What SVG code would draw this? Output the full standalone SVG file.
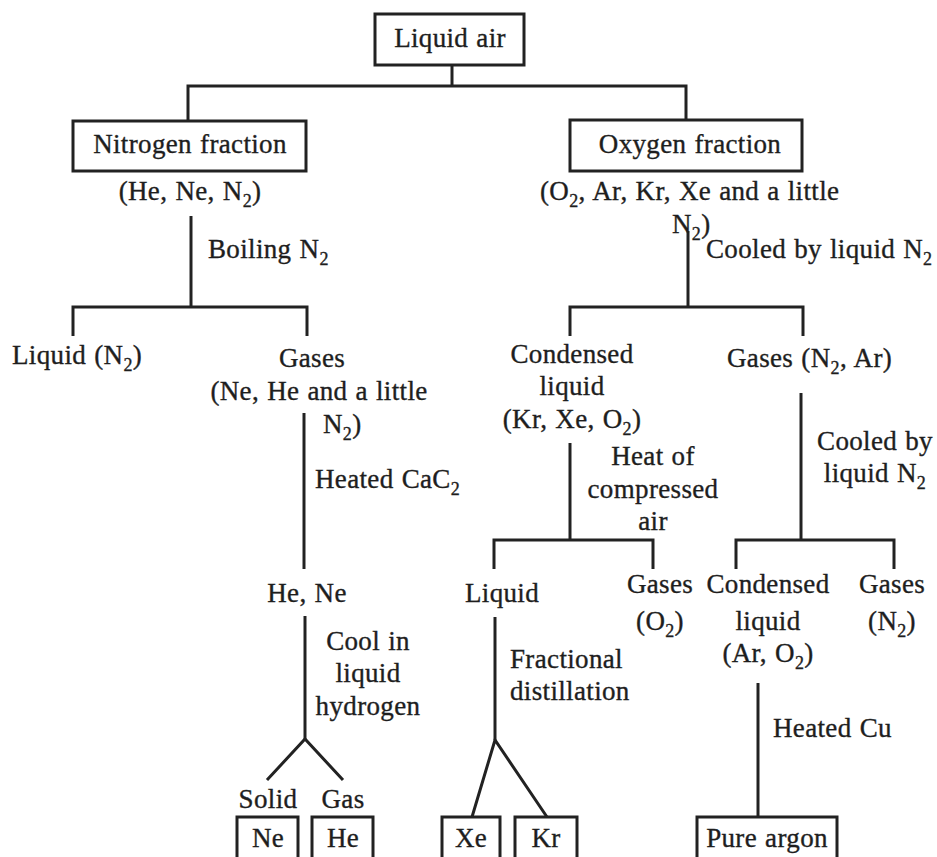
<svg xmlns="http://www.w3.org/2000/svg" width="937" height="857" viewBox="0 0 937 857">
  <style>
    text { font-family: "Liberation Serif", "Times New Roman", serif; font-size: 27px; fill: #1e1e1e; stroke: #1e1e1e; stroke-width: 0.35px; letter-spacing: 0.35px; word-spacing: 1px; }
    .c { text-anchor: middle; }
    .sub { font-size: 18px; }
    .box { fill: none; stroke: #222; stroke-width: 3; }
    .ln { fill: none; stroke: #222; stroke-width: 3; stroke-linejoin: miter; stroke-linecap: butt; }
  </style>
  <rect width="937" height="857" fill="#fff"/>

  <!-- connectors -->
  <g id="connectors">
    <polyline class="ln" points="452,65 452,86"/>
    <polyline class="ln" points="188,121 188,86 686,86 686,121"/>
    <polyline class="ln" points="191,216 191,307"/>
    <polyline class="ln" points="73,336 73,307 307,307 307,336"/>
    <polyline class="ln" points="688,231 688,306"/>
    <polyline class="ln" points="570,336 570,307 803,307 803,336"/>
    <polyline class="ln" points="304,413 304,569"/>
    <polyline class="ln" points="570,443 570,540"/>
    <polyline class="ln" points="494,569 494,540 653,540 653,569"/>
    <polyline class="ln" points="801,393 801,540"/>
    <polyline class="ln" points="736,569 736,540 894,540 894,569"/>
    <polyline class="ln" points="305,616 305,739"/>
    <polyline class="ln" points="267,780 305,739 343,780"/>
    <polyline class="ln" points="495,617 495,740"/>
    <polyline class="ln" points="472,817 495,740 547,817"/>
    <polyline class="ln" points="758,683 758,817"/>
  </g>

  <!-- boxed nodes -->
  <g id="liquid-air">
    <rect class="box" x="375" y="14" width="149" height="51"/>
    <text class="c" x="450" y="47">Liquid air</text>
  </g>
  <g id="nitrogen-fraction">
    <rect class="box" x="73" y="121" width="233" height="50"/>
    <text class="c" x="190" y="153">Nitrogen fraction</text>
    <text class="c" x="190" y="200">(He, Ne, N<tspan class="sub" dy="7">2</tspan><tspan dy="-7">)</tspan></text>
  </g>
  <g id="oxygen-fraction">
    <rect class="box" x="570" y="120" width="232" height="51"/>
    <text class="c" x="690" y="153">Oxygen fraction</text>
    <text x="540" y="200">(O<tspan class="sub" dy="7">2</tspan><tspan dy="-7">, Ar, Kr, Xe and a little</tspan></text>
    <text x="672" y="233">N<tspan class="sub" dy="7">2</tspan><tspan dy="-7">)</tspan></text>
  </g>

  <!-- process labels -->
  <g id="label-boiling">
    <text x="208" y="258">Boiling N<tspan class="sub" dy="7">2</tspan></text>
  </g>
  <g id="label-cooled-1">
    <text x="706" y="258">Cooled by liquid N<tspan class="sub" dy="7">2</tspan></text>
  </g>

  <!-- second level -->
  <g id="liquid-n2">
    <text x="12" y="364">Liquid (N<tspan class="sub" dy="7">2</tspan><tspan dy="-7">)</tspan></text>
  </g>
  <g id="gases-ne-he">
    <text class="c" x="312" y="367">Gases</text>
    <text class="c" x="319" y="400">(Ne, He and a little</text>
    <text x="323" y="433">N<tspan class="sub" dy="7">2</tspan><tspan dy="-7">)</tspan></text>
  </g>
  <g id="label-heated-cac2">
    <text x="315" y="488">Heated CaC<tspan class="sub" dy="7">2</tspan></text>
  </g>
  <g id="condensed-kr-xe">
    <text class="c" x="572" y="363">Condensed</text>
    <text class="c" x="572" y="395">liquid</text>
    <text class="c" x="572" y="428">(Kr, Xe, O<tspan class="sub" dy="7">2</tspan><tspan dy="-7">)</tspan></text>
  </g>
  <g id="gases-n2-ar">
    <text x="727" y="367">Gases (N<tspan class="sub" dy="7">2</tspan><tspan dy="-7">, Ar)</tspan></text>
  </g>
  <g id="label-heat-compressed">
    <text class="c" x="653" y="465">Heat of</text>
    <text class="c" x="653" y="498">compressed</text>
    <text class="c" x="653" y="530">air</text>
  </g>
  <g id="label-cooled-2">
    <text class="c" x="875" y="450">Cooled by</text>
    <text class="c" x="875" y="482">liquid N<tspan class="sub" dy="7">2</tspan></text>
  </g>

  <!-- third level -->
  <g id="he-ne">
    <text class="c" x="307" y="602">He, Ne</text>
  </g>
  <g id="label-cool-hydrogen">
    <text class="c" x="368" y="650">Cool in</text>
    <text class="c" x="368" y="682">liquid</text>
    <text class="c" x="368" y="715">hydrogen</text>
  </g>
  <g id="liquid-kr-xe">
    <text class="c" x="502" y="602">Liquid</text>
  </g>
  <g id="gases-o2">
    <text class="c" x="660" y="593">Gases</text>
    <text class="c" x="660" y="630">(O<tspan class="sub" dy="7">2</tspan><tspan dy="-7">)</tspan></text>
  </g>
  <g id="condensed-ar-o2">
    <text class="c" x="768" y="593">Condensed</text>
    <text class="c" x="768" y="630">liquid</text>
    <text class="c" x="768" y="662">(Ar, O<tspan class="sub" dy="7">2</tspan><tspan dy="-7">)</tspan></text>
  </g>
  <g id="gases-n2">
    <text class="c" x="892" y="593">Gases</text>
    <text class="c" x="892" y="630">(N<tspan class="sub" dy="7">2</tspan><tspan dy="-7">)</tspan></text>
  </g>
  <g id="label-fractional">
    <text x="510" y="668">Fractional</text>
    <text x="510" y="700">distillation</text>
  </g>
  <g id="label-heated-cu">
    <text x="773" y="737">Heated Cu</text>
  </g>

  <!-- products -->
  <g id="solid-ne">
    <text class="c" x="268" y="808">Solid</text>
    <rect class="box" x="237" y="817" width="61" height="60"/>
    <text class="c" x="268" y="847">Ne</text>
  </g>
  <g id="gas-he">
    <text class="c" x="343" y="808">Gas</text>
    <rect class="box" x="312" y="817" width="61" height="60"/>
    <text class="c" x="343" y="847">He</text>
  </g>
  <g id="xe">
    <rect class="box" x="442" y="817" width="58" height="60"/>
    <text class="c" x="471" y="847">Xe</text>
  </g>
  <g id="kr">
    <rect class="box" x="515" y="817" width="62" height="60"/>
    <text class="c" x="546" y="847">Kr</text>
  </g>
  <g id="pure-argon">
    <rect class="box" x="697" y="817" width="140" height="60"/>
    <text class="c" x="767" y="847">Pure argon</text>
  </g>
</svg>
